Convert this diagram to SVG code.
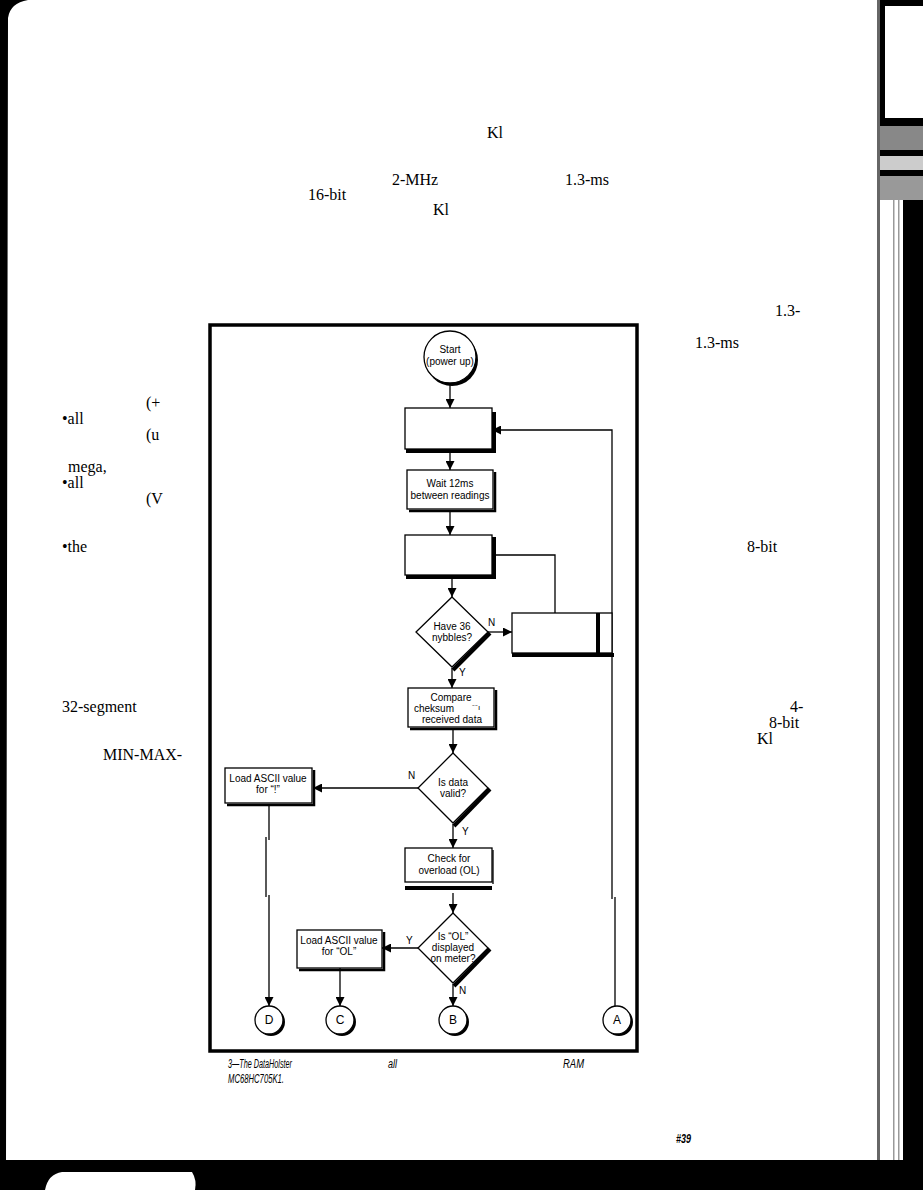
<svg xmlns="http://www.w3.org/2000/svg" width="923" height="1190" viewBox="0 0 923 1190">
<defs>
<marker id="ah" viewBox="0 0 10 10" refX="10" refY="5" markerWidth="9" markerHeight="9" markerUnits="userSpaceOnUse" orient="auto">
<path d="M0,0 L10,5 L0,10 z" fill="#000"/>
</marker>
<style>
.box{fill:#fff;stroke:#000;stroke-width:1.3}
.sh{fill:none;stroke:#000;stroke-width:4}
.sh2{fill:none;stroke:#000;stroke-width:2.5}
.ln{fill:none;stroke:#000;stroke-width:1.3}
.ar{fill:none;stroke:#000;stroke-width:1.3;marker-end:url(#ah)}
.t{font-family:"Liberation Sans",Arial,sans-serif;font-size:10px;text-anchor:middle;fill:#000}
.lb{font-family:"Liberation Sans",Arial,sans-serif;font-size:10px;fill:#000}
.pg{font-family:"Liberation Serif","Times New Roman",serif;font-size:16px;fill:#000}
.cap{font-family:"Liberation Sans",Arial,sans-serif;font-size:12px;font-style:italic;fill:#000}
.csh{fill:#000}
.cir{fill:#fff;stroke:#000;stroke-width:1.3}
</style>
</defs>
<rect x="0" y="0" width="923" height="1190" fill="#fff"/>
<g id="page-edges">
<path d="M0,0 H28 Q10,3 8,18 L6,1165 H0 Z" fill="#000"/>
<rect x="877" y="0" width="3" height="1165" fill="#666"/>
<rect x="893" y="200" width="1.5" height="960" fill="#999"/>
<rect x="898" y="200" width="1.5" height="960" fill="#999"/>
<rect x="880" y="0" width="43" height="6" fill="#000"/>
<rect x="880" y="6" width="5" height="112" fill="#000"/>
<rect x="880" y="118" width="43" height="8" fill="#000"/>
<rect x="880" y="126" width="43" height="24" fill="#888"/>
<rect x="880" y="150" width="43" height="6" fill="#000"/>
<rect x="880" y="156" width="43" height="14" fill="#ccc"/>
<rect x="880" y="170" width="43" height="6" fill="#000"/>
<rect x="880" y="176" width="43" height="24" fill="#999"/>
<rect x="903" y="200" width="20" height="990" fill="#000"/>
<path d="M0,1160 H923 V1190 H0 Z" fill="#000"/>
<path d="M45,1190 Q48,1174 62,1172 H192 Q197,1180 195,1190 Z" fill="#fff"/>
</g>
<g id="page-text" class="pg">
<text x="487" y="138">Kl</text>
<text x="392" y="185">2-MHz</text>
<text x="565" y="185">1.3-ms</text>
<text x="308" y="200">16-bit</text>
<text x="433" y="215">Kl</text>
<text x="775" y="316">1.3-</text>
<text x="695" y="348">1.3-ms</text>
<text x="146" y="408">(+</text>
<text x="62" y="424">•all</text>
<text x="146" y="440">(u</text>
<text x="68" y="472">mega,</text>
<text x="62" y="488">•all</text>
<text x="146" y="504">(V</text>
<text x="62" y="552">•the</text>
<text x="62" y="712">32-segment</text>
<text x="103" y="760">MIN-MAX-</text>
<text x="747" y="552">8-bit</text>
<text x="790" y="712">4-</text>
<text x="769" y="728">8-bit</text>
<text x="757" y="744">Kl</text>
</g>
<rect id="frame" x="210" y="325" width="427" height="726" fill="none" stroke="#000" stroke-width="3.5"/>
<g id="connectors">
<path class="ar" d="M450,384 V408"/>
<path class="ar" d="M450,452 V470"/>
<path class="ar" d="M450,512 V535"/>
<path class="ln" d="M492,555 H555 V613"/>
<path class="ar" d="M452,578 V597"/>
<path class="ar" d="M488,632 H512"/>
<path class="ar" d="M452,668 V688"/>
<path class="ar" d="M453,728 V753"/>
<path class="ar" d="M418,788 H313"/>
<path class="ar" d="M269,805 V840 M266,837 V897 M269,895 V1006"/>
<path class="ar" d="M453,824 V848"/>
<path class="ar" d="M453,893 V913"/>
<path class="ar" d="M418,948 H382"/>
<path class="ar" d="M340,968 V1006"/>
<path class="ar" d="M453,984 V1006"/>
<path class="ar" d="M615,1006 V897 M612,899 V430 H492"/>
<text class="lb" x="488" y="626">N</text>
<text class="lb" x="459" y="676">Y</text>
<text class="lb" x="408" y="779">N</text>
<text class="lb" x="462" y="835">Y</text>
<text class="lb" x="406" y="944">Y</text>
<text class="lb" x="459" y="994">N</text>
</g>
<g id="start">
<circle class="csh" cx="452" cy="360" r="26"/>
<circle class="cir" cx="450" cy="357" r="26"/>
<text class="t" x="450" y="353">Start</text>
<text class="t" x="450" y="365">(power up)</text>
</g>
<g id="box1">
<rect class="box" x="405" y="408" width="87" height="41"/>
<path class="sh" d="M406,451 H494 V412"/>
</g>
<g id="wait">
<rect class="box" x="407" y="470" width="86" height="39"/>
<path class="sh2" d="M409,511 H495 V472"/>
<text class="t" x="450" y="487">Wait 12ms</text>
<text class="t" x="450" y="499">between readings</text>
</g>
<g id="box3">
<rect class="box" x="405" y="535" width="87" height="40"/>
<path class="sh" d="M406,577 H494 V537"/>
</g>
<g id="have36">
<polygon class="box" points="452,597 488,632 452,667 416,632"/>
<path class="sh" d="M490,633 L453,670"/>
<text class="t" x="452" y="630">Have 36</text>
<text class="t" x="452" y="641">nybbles?</text>
</g>
<g id="box4">
<rect class="box" x="512" y="613" width="100" height="40"/>
<path class="sh" d="M512,655 H614"/>
<path class="sh" d="M598,613 V654"/>
</g>
<g id="compare">
<rect class="box" x="408" y="688" width="86" height="39"/>
<path class="sh2" d="M410,729 H496 V690"/>
<text class="t" x="451" y="701">Compare</text>
<text class="t" x="434" y="712">cheksum</text>
<text class="t" x="476" y="710" style="font-size:8px">⁻⁻ı</text>
<text class="t" x="452" y="723">received data</text>
</g>
<g id="valid">
<polygon class="box" points="453,753 488,788 453,823 418,788"/>
<path class="sh" d="M490,789 L454,826"/>
<text class="t" x="453" y="786">Is data</text>
<text class="t" x="453" y="797">valid?</text>
</g>
<g id="loadbang">
<rect class="box" x="225" y="768" width="87" height="35"/>
<path class="sh2" d="M227,805 H314 V770"/>
<text class="t" x="268" y="782">Load ASCII value</text>
<text class="t" x="268" y="793">for “!”</text>
</g>
<g id="overload">
<rect class="box" x="405" y="848" width="87" height="34"/>
<path class="ln" d="M493,850 V884"/>
<path class="sh" d="M405,888 H492"/>
<text class="t" x="449" y="862">Check for</text>
<text class="t" x="449" y="874">overload (OL)</text>
</g>
<g id="isol">
<polygon class="box" points="453,913 488,948 453,983 418,948"/>
<path class="sh" d="M490,949 L454,986"/>
<text class="t" x="453" y="940">Is “OL”</text>
<text class="t" x="453" y="951">displayed</text>
<text class="t" x="453" y="962">on meter?</text>
</g>
<g id="loadol">
<rect class="box" x="297" y="930" width="85" height="38"/>
<path class="sh2" d="M299,970 H384 V932"/>
<text class="t" x="339" y="944">Load ASCII value</text>
<text class="t" x="339" y="955">for “OL”</text>
</g>
<g id="D">
<circle class="csh" cx="271" cy="1022" r="14"/>
<circle class="cir" cx="269" cy="1020" r="14"/>
<text class="t" x="269" y="1024" style="font-size:12px">D</text>
</g>
<g id="C">
<circle class="csh" cx="342" cy="1022" r="14"/>
<circle class="cir" cx="340" cy="1020" r="14"/>
<text class="t" x="340" y="1024" style="font-size:12px">C</text>
</g>
<g id="B">
<circle class="csh" cx="455" cy="1022" r="14"/>
<circle class="cir" cx="453" cy="1020" r="14"/>
<text class="t" x="453" y="1024" style="font-size:12px">B</text>
</g>
<g id="A">
<circle class="csh" cx="619" cy="1022" r="14"/>
<circle class="cir" cx="617" cy="1020" r="14"/>
<text class="t" x="617" y="1024" style="font-size:12px">A</text>
</g>
<g id="caption">
<text class="cap" x="228" y="1068" textLength="64" lengthAdjust="spacingAndGlyphs">3—The DataHolster</text>
<text class="cap" x="388" y="1068" textLength="9" lengthAdjust="spacingAndGlyphs">all</text>
<text class="cap" x="563" y="1068" textLength="21" lengthAdjust="spacingAndGlyphs">RAM</text>
<text class="cap" x="228" y="1083" textLength="56" lengthAdjust="spacingAndGlyphs">MC68HC705K1.</text>
<text class="cap" x="676" y="1143" font-weight="bold" font-style="normal" font-size="14" textLength="15" lengthAdjust="spacingAndGlyphs">#39</text>
</g>
</svg>
